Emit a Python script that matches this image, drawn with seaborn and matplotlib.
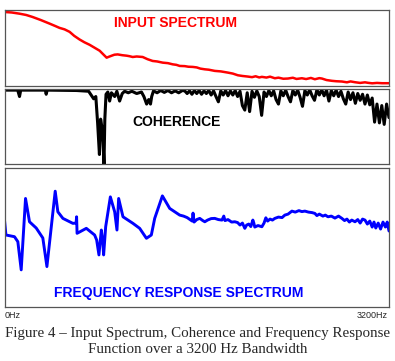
import matplotlib
matplotlib.use("Agg")
import matplotlib.pyplot as plt
import seaborn as sns

# ---------------- data ----------------
# Input spectrum (relative level)
inp_freq = [0, 60, 125, 180, 233, 300, 375, 420, 458, 500, 542, 580, 625, 665, 708, 750, 792,
            825, 850, 870, 892, 915, 942, 980, 1017, 1040, 1067, 1100, 1150, 1190, 1233, 1270,
            1317, 1360, 1400, 1430, 1458, 1500, 1530, 1567, 1600, 1630, 1667, 1700, 1750, 1800,
            1858, 1900, 1942, 1980, 2025, 2060, 2090, 2120, 2142, 2180, 2210, 2250, 2280, 2320,
            2358, 2400, 2430, 2475, 2510, 2550, 2583, 2620, 2642, 2680, 2725, 2760, 2808, 2850,
            2880, 2917, 2960, 3000, 3025, 3060, 3100, 3142, 3200]
inp_level = [74, 73.5, 72.3, 71, 69, 66, 62.3, 60, 58, 56.5, 54, 50, 46.3, 43.5, 41, 38, 35,
             31, 28, 29, 30, 31, 31.3, 30.5, 30, 29.5, 28.7, 29.2, 28.7, 26.5, 24.7, 24.2,
             23, 22.5, 21.3, 20.8, 19.7, 19.5, 18.9, 18.7, 18.2, 17.0, 16.3, 15.9, 14.7, 14.2,
             13, 12.0, 10.3, 9.6, 9.0, 8.4, 9.3, 8.1, 8.7, 8.0, 8.9, 7.3, 7.9, 6.8,
             7.0, 7.8, 6.6, 7.3, 6.5, 7.6, 6.3, 7.4, 7.0, 5.5, 4.7, 4.3, 4.0, 3.2,
             4.1, 3.3, 2.6, 3.2, 2.7, 2.2, 2.6, 2.3, 2.3]

# Coherence (0..1)
coh_freq = [0, 110, 125, 135, 340, 347, 355, 600, 700, 742, 760, 775, 790, 800, 810, 820, 828,
            835, 845, 860, 875, 890, 917, 935, 958, 980, 1000, 1030, 1060, 1100, 1140, 1160,
            1183, 1200, 1215, 1225, 1240, 1270, 1300, 1330, 1360, 1390, 1420, 1450, 1480,
            1500, 1520, 1540, 1560, 1580, 1600, 1620, 1640, 1660, 1680, 1700, 1720, 1740,
            1760, 1780, 1800, 1820, 1840, 1860, 1880, 1900, 1920, 1940, 1960, 1980, 2000,
            2020, 2040, 2060, 2080, 2100, 2120, 2140, 2160, 2180, 2200, 2220, 2240, 2260,
            2280, 2300, 2320, 2340, 2360, 2380, 2400, 2420, 2440, 2460, 2480, 2500, 2520,
            2540, 2560, 2580, 2600, 2620, 2640, 2660, 2680, 2700, 2720, 2740, 2760, 2780,
            2800, 2820, 2840, 2860, 2880, 2900, 2920, 2940, 2960, 2980, 3000, 3020, 3040,
            3060, 3080, 3100, 3120, 3140, 3160, 3180, 3200]
coh_val = [0.985, 0.985, 0.90, 0.985, 0.985, 0.93, 0.985, 0.98, 0.97, 0.87, 0.90, 0.55, 0.13,
           0.60, 0.50, 0.30, 0.0, 0.60, 0.93, 0.96, 0.84, 0.95, 0.90, 0.97, 0.84, 0.94, 0.97,
           0.95, 0.97, 0.94, 0.96, 0.90, 0.80, 0.86, 0.80, 0.90, 0.975, 0.95, 0.98, 0.955,
           0.98, 0.95, 0.975, 0.95, 0.98,
           0.975, 0.94, 0.975, 0.93, 0.98, 0.94, 0.98, 0.93, 0.975, 0.94, 0.98, 0.92, 0.975,
           0.90, 0.83, 0.975, 0.92, 0.98, 0.91, 0.975, 0.92, 0.98, 0.90, 0.97, 0.78, 0.72,
           0.95, 0.70, 0.97, 0.89, 0.975, 0.90, 0.65, 0.96, 0.90, 0.98, 0.91, 0.975, 0.86,
           0.80, 0.975, 0.91, 0.985, 0.90, 0.83, 0.98, 0.92, 0.985, 0.89, 0.77, 0.98, 0.92,
           0.99, 0.91, 0.85, 0.99, 0.92, 0.99, 0.91, 0.985, 0.84, 0.98, 0.91, 0.985, 0.90,
           0.97, 0.87, 0.80, 0.96, 0.86, 0.95, 0.81, 0.94, 0.85, 0.93, 0.80, 0.92, 0.79,
           0.88, 0.56, 0.80, 0.55, 0.78, 0.53, 0.80, 0.62]

# Frequency response (relative level)
frf_freq = [0, 12, 42, 83, 111, 139, 175, 208, 264, 319, 353, 422, 444, 486, 569, 596, 600,
            604, 681, 750, 767, 786, 796, 806, 817, 825, 842, 881, 917, 936, 950, 986, 1069,
            1125, 1181, 1222, 1250, 1314, 1375, 1458, 1490, 1520, 1550, 1562, 1569, 1578,
            1600, 1625, 1650, 1667, 1690, 1720, 1750, 1780, 1810, 1825, 1835, 1860, 1890,
            1917, 1940, 1960, 1980, 2000, 2015, 2033, 2050, 2067, 2075, 2083, 2110, 2142,
            2160, 2175, 2190, 2210, 2230, 2250, 2280, 2310, 2333, 2360, 2392, 2420, 2450,
            2475, 2500, 2530, 2560, 2583, 2600, 2620, 2650, 2670, 2692, 2720, 2750, 2780,
            2808, 2830, 2850, 2870, 2890, 2917, 2940, 2960, 2980, 3000, 3020, 3040, 3060,
            3075, 3090, 3110, 3130, 3150, 3170, 3185, 3200]
frf_level = [87, 72, 71.3, 70.3, 65.3, 37, 108.7, 85.3, 79, 69, 40.3, 116, 95.3, 88.7, 83.7,
             84, 90.3, 73.7, 78.7, 72, 67, 52, 65, 77, 66, 52, 80.3, 110.3, 95.3, 77, 108.7,
             90.3, 83.7, 78.7, 68.7, 72, 88.7, 111.3, 98.7, 92, 91, 89.5, 87, 86, 94, 85,
             87.5, 88.7, 86.5, 85.3, 87, 88.5, 88.7, 87.5, 87, 91, 86.5, 87.5, 85,
             85.3, 84.5, 82, 84, 78.7, 82, 83, 80.5, 87, 84, 80, 81.5, 80.3,
             84, 89.3, 86, 88, 87, 88.7, 90, 89.5, 92, 93, 96, 95, 96.5,
             95.5, 96, 95, 94.5, 93.7, 91.5, 93, 91, 92, 90.3, 91, 89, 91,
             88.7, 86.5, 88, 85, 87, 85.3, 87.5, 84, 88, 87, 83, 86, 80,
             85, 79, 84, 78, 85, 80, 85, 76]

# ---------------- figure ----------------
sns.set_style("white")
plt.rcParams["font.family"] = ["Liberation Sans", "DejaVu Sans"]

W, H = 395, 361
fig = plt.figure(figsize=(W / 100, H / 100), dpi=100)


def box(x0, y0, x1, y1):
    return [x0 / W, 1 - y1 / H, (x1 - x0) / W, (y1 - y0) / H]


ax1 = fig.add_axes(box(4.5, 10, 389, 85.5))
ax2 = fig.add_axes(box(4.5, 89, 389, 164.3))
ax3 = fig.add_axes(box(4.5, 168.3, 389, 306.7))

sns.lineplot(x=inp_freq, y=inp_level, ax=ax1, color="#ff0000", linewidth=1.8, sort=False)
sns.lineplot(x=coh_freq, y=coh_val, ax=ax2, color="#000000", linewidth=2.2, sort=False)
sns.lineplot(x=frf_freq, y=frf_level, ax=ax3, color="#0000ff", linewidth=2.1, sort=False)

ax1.set_ylim(0, 76)
ax2.set_ylim(0, 1.0)
ax3.set_ylim(0, 139)

for ax in (ax1, ax2, ax3):
    ax.set_xlim(0, 3200)
    ax.set_xticks([])
    ax.set_yticks([])
    ax.set_xlabel("")
    ax.set_ylabel("")
    for s in ax.spines.values():
        s.set_visible(True)
        s.set_color("#555555")
        s.set_linewidth(0.9)

fig.text(176 / W, 1 - 23.3 / H, "INPUT SPECTRUM", color="#ff0000", fontsize=10,
         fontweight="bold", ha="center", va="center")
fig.text(177 / W, 1 - 122 / H, "COHERENCE", color="#000000", fontsize=10,
         fontweight="bold", ha="center", va="center")
fig.text(178.5 / W, 1 - 293 / H, "FREQUENCY RESPONSE SPECTRUM", color="#0000ff", fontsize=10,
         fontweight="bold", ha="center", va="center")

fig.text(5 / W, 1 - 316 / H, "0Hz", fontsize=6.5, ha="left", va="center")
fig.text(388 / W, 1 - 316 / H, "3200Hz", fontsize=6.5, ha="right", va="center")

fig.text(197.5 / W, 1 - 333 / H,
         "Figure 4 \u2013 Input Spectrum, Coherence and Frequency Response",
         fontsize=10.8, family=["Liberation Serif", "DejaVu Serif"], ha="center", va="center")
fig.text(197.5 / W, 1 - 349.5 / H, "Function over a 3200 Hz Bandwidth",
         fontsize=10.8, family=["Liberation Serif", "DejaVu Serif"], ha="center", va="center")

fig.savefig("out.png", dpi=100)
